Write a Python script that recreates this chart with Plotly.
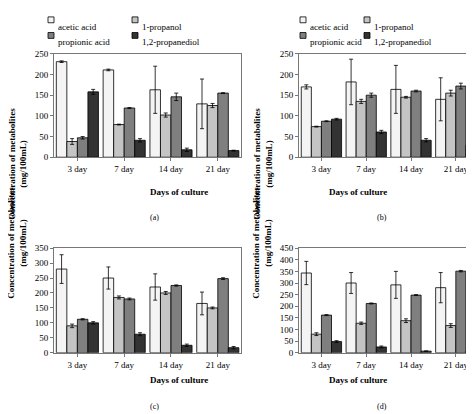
import plotly.graph_objects as go

days = ["3 day", "7 day", "14 day", "21 day"]
names = ["acetic acid", "1-propanol", "propionic acid", "1,2-propanediol"]
colors = ["#f4f4f4", "#c4c4c4", "#7f7f7f", "#333333"]

a_vals = [[231, 211, 163, 129], [38, 79, 102, 125], [47, 119, 146, 155], [158, 41, 18, 16]]
a_err = [[2, 2, 57, 60], [7, 1, 5, 5], [3, 1, 9, 1], [6, 4, 4, 1]]
b_vals = [[170, 182, 164, 140], [74, 135, 145, 155], [87, 150, 160, 172], [92, 61, 41, 29]]
b_err = [[5, 55, 58, 52], [1, 5, 2, 7], [1, 5, 2, 7], [2, 4, 4, 4]]
c_vals = [[280, 250, 220, 165], [90, 185, 200, 150], [112, 180, 225, 248], [100, 62, 25, 17]]
c_err = [[48, 37, 44, 38], [6, 5, 5, 3], [2, 3, 2, 3], [4, 5, 4, 4]]
d_vals = [[343, 300, 292, 280], [80, 127, 138, 117], [162, 212, 248, 351], [48, 25, 7, 6]]
d_err = [[50, 45, 58, 65], [6, 5, 8, 8], [2, 2, 2, 3], [4, 4, 1, 1]]

panels = [
    ("a", a_vals, a_err, 250, [0.097, 0.492], [0.643, 0.899]),
    ("b", b_vals, b_err, 250, [0.614, 0.992], [0.643, 0.899]),
    ("c", c_vals, c_err, 350, [0.097, 0.492], [0.159, 0.418]),
    ("d", d_vals, d_err, 450, [0.614, 0.992], [0.159, 0.418]),
]

W, H = 474, 414
font = dict(family="Liberation Serif", size=9, color="black")
fig = go.Figure()
layout = dict(width=W, height=H, margin=dict(l=0, r=0, t=0, b=0),
              plot_bgcolor="white", paper_bgcolor="white", font=font, showlegend=False,
              barmode="group", bargap=0.1, bargroupgap=0, annotations=[], shapes=[])

for p, (lab, vals, errs, ymax, xd, yd) in enumerate(panels):
    n = "" if p == 0 else str(p + 1)
    for i in range(4):
        fig.add_trace(go.Bar(
            x=days, y=vals[i], name=names[i], xaxis="x" + n, yaxis="y" + n,
            marker=dict(color=colors[i], line=dict(color="black", width=0.8)),
            error_y=dict(type="data", array=errs[i], color="black", thickness=0.8, width=2),
        ))
    layout["xaxis" + n] = dict(domain=xd, anchor="y" + n, showline=True, linecolor="#777",
                               mirror=True, ticks="outside", ticklen=3, tickcolor="#777",
                               tickfont=font)
    layout["yaxis" + n] = dict(domain=yd, anchor="x" + n, range=[0, ymax], dtick=50,
                               showline=True, linecolor="#777", mirror=True, showgrid=False,
                               ticks="outside", ticklen=3, tickcolor="#777", tickfont=font)
    xc = (xd[0] + xd[1]) / 2
    layout["annotations"] += [
        dict(text="<b>Days of culture</b>", x=xc, y=yd[0] - 0.085, xref="paper", yref="paper",
             showarrow=False, font=font),
        dict(text="<b>Concentration of metabolites<br>(mg/100mL)</b>", x=xd[0] - 0.05,
             xanchor="right", y=(yd[0] + yd[1]) / 2, xref="paper", yref="paper",
             showarrow=False, textangle=-90, font=font),
        dict(text="(" + lab + ")", x=xc, y=yd[0] - 0.15, xref="paper", yref="paper",
             showarrow=False, font=dict(family="Liberation Serif", size=8)),
    ]

# legend drawn as small squares + labels, two rows above panels (a) and (b)
for x0s in ([40, 124], [292, 356]):
    for i in range(4):
        px_ = x0s[i % 2]
        py = 7 if i < 2 else 23
        layout["shapes"].append(dict(type="rect", xref="paper", yref="paper",
                                     x0=px_ / W, x1=(px_ + 6) / W,
                                     y0=1 - (py + 3) / H, y1=1 - (py - 3) / H,
                                     fillcolor=colors[i], line=dict(color="black", width=0.8)))
        layout["annotations"].append(dict(text=names[i], x=(px_ + 8) / W, y=1 - py / H,
                                          xref="paper", yref="paper", xanchor="left",
                                          showarrow=False, font=font))

fig.update_layout(**layout)
fig.write_html("out.html")
